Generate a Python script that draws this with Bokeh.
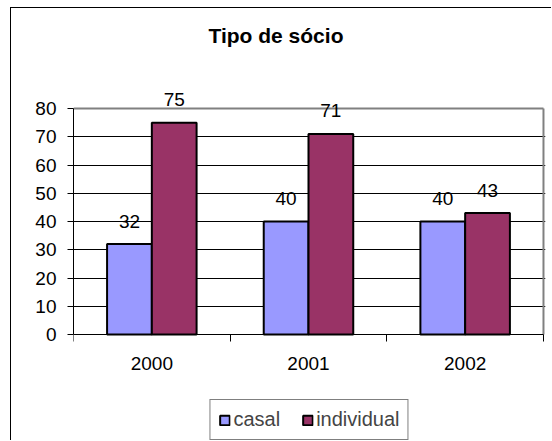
from bokeh.plotting import figure
from bokeh.models import ColumnDataSource, FixedTicker, Legend, LegendItem, Range1d, Title
from bokeh.transform import dodge
from bokeh.core.properties import value
from bokeh.embed import file_html
from bokeh.resources import INLINE

years = ["2000", "2001", "2002"]
casal = [32, 40, 40]
individual = [75, 71, 43]
y_ticks = [0, 10, 20, 30, 40, 50, 60, 70, 80]

FONT = "Liberation Sans"
n = len(years)
ymax = y_ticks[-1]
pos = [i + 0.5 for i in range(n)]
src = ColumnDataSource(dict(
    x=pos, casal=casal, individual=individual,
    casal_t=[str(v) for v in casal], individual_t=[str(v) for v in individual],
))

ppu = 226 / ymax  # pixels per unit on the y axis
p = figure(width=541, height=433, output_backend="svg", toolbar_location=None,
           x_range=Range1d(0, n * 1.0043),
           y_range=Range1d(-107 / ppu, ymax + 23 / ppu),
           min_border_left=62, min_border_right=7, min_border_top=77, min_border_bottom=0)
p.title = None
p.background_fill_color = "white"
p.border_fill_color = "white"
p.outline_line_color = None
p.styles = {"border-left": "1px solid black", "border-top": "1px solid black",
            "margin-left": "10px", "margin-top": "7px"}

# plot-area border (top and right, gray)
p.segment(x0=[0, n], y0=[ymax, 0], x1=[n, n], y1=[ymax, ymax],
          line_color="#808080", line_width=2)

bw = 0.2857
r1 = p.vbar(x=dodge("x", -bw / 2, range=p.x_range), top="casal", width=bw, source=src,
            fill_color="#9999FF", line_color="black", line_width=2)
r2 = p.vbar(x=dodge("x", bw / 2, range=p.x_range), top="individual", width=bw, source=src,
            fill_color="#993366", line_color="black", line_width=2)

p.text(x=dodge("x", -bw / 2, range=p.x_range), y="casal", text="casal_t", source=src,
       text_align="center", text_baseline="alphabetic", y_offset=-23,
       text_font=value(FONT), text_font_size="19px", text_color="black")
p.text(x=dodge("x", bw / 2, range=p.x_range), y="individual", text="individual_t", source=src,
       text_align="center", text_baseline="alphabetic", y_offset=-23,
       text_font=value(FONT), text_font_size="19px", text_color="black")

# titles: spacer closest to the frame, then the real title
p.add_layout(Title(text=" ", text_font_size="1px", standoff=31), "above")
p.add_layout(Title(text="Tipo de sócio", text_font=FONT, text_font_size="21px",
                   text_font_style="bold", text_color="black",
                   align="left", offset=135, standoff=10), "above")

# y axis
p.yaxis.ticker = FixedTicker(ticks=y_ticks)
p.yaxis.bounds = (0, ymax)
p.yaxis.axis_line_color = "black"
p.yaxis.major_tick_out = 6
p.yaxis.major_tick_in = 0
p.yaxis.minor_tick_line_color = None
p.yaxis.major_label_standoff = 11
p.yaxis.major_label_text_font = FONT
p.yaxis.major_label_text_font_size = "19px"
p.yaxis.major_label_text_color = "black"

# x axis (sits at y = 0, inside the frame, so the legend can go below it)
p.xaxis.fixed_location = 0
p.xaxis.ticker = FixedTicker(ticks=pos, minor_ticks=list(range(n + 1)))
p.xaxis.bounds = (0, n)
p.xaxis.major_label_overrides = {pv: y for pv, y in zip(pos, years)}
p.xaxis.axis_line_color = "black"
p.xaxis.major_tick_line_color = None
p.xaxis.major_tick_out = 0
p.xaxis.major_tick_in = 0
p.xaxis.minor_tick_out = 7
p.xaxis.minor_tick_in = 0
p.xaxis.minor_tick_line_color = "black"
p.xaxis.major_label_standoff = 15
p.xaxis.major_label_text_font = FONT
p.xaxis.major_label_text_font_size = "19px"
p.xaxis.major_label_text_color = "black"

p.xgrid.grid_line_color = None
p.ygrid.ticker = FixedTicker(ticks=y_ticks[1:-1])
p.ygrid.grid_line_color = "black"
p.ygrid.grid_line_width = 1

legend = Legend(items=[LegendItem(label="casal", renderers=[r1]),
                       LegendItem(label="individual", renderers=[r2])],
                orientation="horizontal", location="bottom_center",
                label_text_font=FONT, label_text_font_size="20px",
                glyph_width=12, glyph_height=12, label_standoff=3, spacing=21,
                padding=8, margin=1,
                border_line_color="black", border_line_width=1,
                background_fill_color="white", background_fill_alpha=1)
p.add_layout(legend)

open("out.html", "w").write(file_html(p, INLINE))
